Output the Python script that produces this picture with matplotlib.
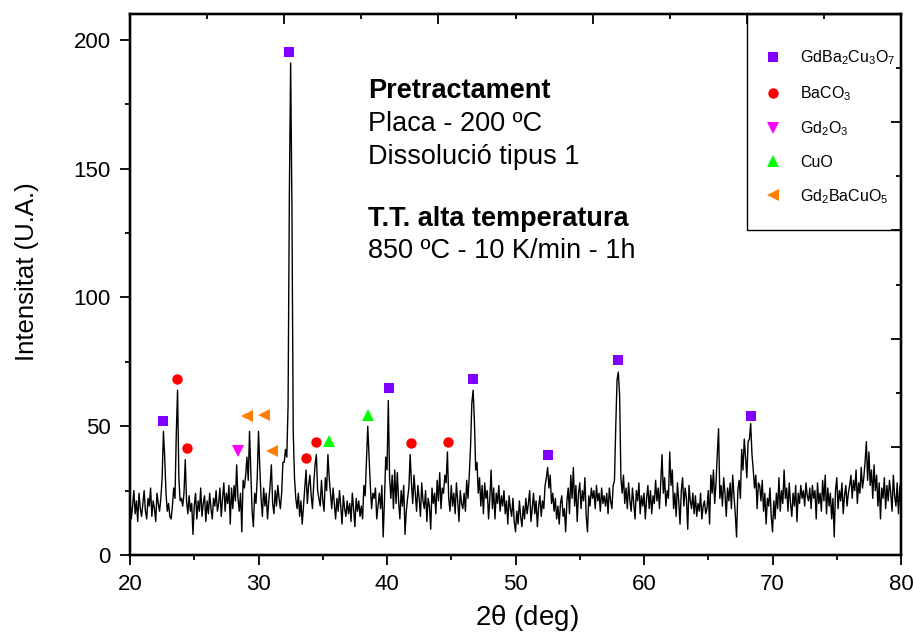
import numpy as np
import matplotlib
matplotlib.use("Agg")
import matplotlib.pyplot as plt
from matplotlib.patches import Rectangle
from matplotlib.ticker import MultipleLocator

plt.rcParams["font.family"] = ["Liberation Sans", "DejaVu Sans"]
plt.rcParams["mathtext.fontset"] = "custom"
plt.rcParams["mathtext.rm"] = "Liberation Sans"
plt.rcParams["mathtext.default"] = "regular"

# ── Data: XRD scan, 20-80 deg, 0.1 deg step ──
START, STEP = 20.0, 0.1
intensity = [
    22, 14, 19, 25, 16, 21, 13, 24, 18, 15,   # 20
    20, 25, 17, 14, 22, 19, 26, 15, 21, 18,   # 21
    13, 24, 20, 17, 22, 30, 48, 38, 24, 17,   # 22
    20, 15, 14, 19, 26, 22, 47, 64, 30, 21,   # 23
    22, 19, 24, 37, 21, 16, 23, 17, 20, 8,    # 24
    19, 24, 14, 21, 17, 26, 15, 20, 23, 13,   # 25
    21, 16, 24, 18, 14, 22, 19, 25, 17, 20,   # 26
    26, 15, 22, 28, 17, 24, 20, 27, 12, 26,   # 27
    18, 27, 21, 35, 22, 17, 24, 9, 29, 26,    # 28
    31, 38, 29, 48, 33, 17, 11, 24, 20, 30,   # 29
    48, 34, 22, 15, 26, 19, 24, 14, 21, 27,   # 30
    35, 20, 16, 25, 19, 27, 22, 18, 24, 36,   # 31
    36, 41, 38, 58, 140, 191, 135, 48, 30, 22,  # 32
    18, 24, 15, 21, 12, 19, 26, 33, 20, 27,   # 33
    31, 23, 18, 28, 35, 39, 25, 22, 19, 29,   # 34
    21, 17, 30, 25, 39, 30, 24, 18, 26, 20,   # 35
    14, 22, 17, 25, 19, 12, 23, 18, 15, 21,   # 36
    16, 20, 13, 24, 18, 11, 22, 17, 21, 15,   # 37
    19, 14, 27, 23, 36, 50, 38, 27, 18, 24,   # 38
    22, 26, 14, 19, 24, 18, 27, 7, 21, 38,    # 39
    33, 60, 30, 22, 31, 18, 33, 20, 32, 21,   # 40
    14, 25, 19, 27, 8, 17, 22, 26, 39, 28,    # 41
    20, 31, 24, 17, 27, 22, 15, 28, 21, 18,   # 42
    25, 13, 22, 19, 10, 26, 20, 24, 16, 29,   # 43
    21, 32, 18, 26, 24, 31, 28, 40, 22, 17,   # 44
    27, 19, 24, 16, 28, 21, 13, 25, 20, 18,   # 45
    24, 17, 29, 22, 31, 42, 59, 64, 52, 33,   # 46
    36, 24, 30, 19, 27, 16, 28, 22, 25, 14,   # 47
    22, 33, 18, 26, 14, 24, 20, 27, 17, 23,   # 48
    19, 25, 16, 21, 12, 23, 18, 15, 22, 13,   # 49
    9, 17, 12, 21, 15, 11, 19, 14, 22, 16,    # 50
    20, 25, 13, 18, 24, 16, 21, 11, 19, 23,   # 51
    15, 21, 18, 27, 30, 34, 26, 31, 20, 24,   # 52
    17, 22, 14, 19, 12, 20, 23, 15, 18, 9,    # 53
    21, 26, 16, 31, 22, 34, 19, 27, 13, 24,   # 54
    28, 18, 25, 21, 30, 15, 9, 23, 19, 26,    # 55
    22, 25, 18, 27, 21, 24, 17, 26, 20, 23,   # 56
    19, 24, 16, 26, 21, 18, 27, 29, 50, 68,   # 57
    71, 62, 30, 24, 31, 20, 26, 18, 28, 21,   # 58
    17, 26, 20, 14, 25, 21, 28, 16, 23, 19,   # 59
    24, 14, 22, 27, 18, 25, 16, 23, 20, 29,   # 60
    21, 26, 18, 28, 39, 24, 30, 19, 25, 22,   # 61
    40, 27, 33, 18, 24, 15, 28, 21, 12, 25,   # 62
    30, 19, 26, 22, 10, 27, 21, 18, 24, 16,   # 63
    23, 15, 20, 17, 24, 14, 19, 21, 16, 18,   # 64
    25, 12, 31, 24, 33, 20, 28, 39, 49, 22,   # 65
    27, 19, 30, 24, 15, 26, 21, 28, 18, 31,   # 66
    23, 16, 7, 25, 29, 22, 41, 33, 45, 38,    # 67
    30, 44, 45, 51, 39, 33, 26, 31, 18, 28,   # 68
    27, 21, 29, 17, 24, 12, 22, 19, 26, 15,   # 69
    9, 21, 14, 24, 18, 30, 17, 25, 20, 33,    # 70
    22, 26, 17, 28, 20, 15, 24, 19, 27, 13,   # 71
    24, 20, 27, 22, 25, 19, 28, 23, 21, 26,   # 72
    18, 27, 22, 25, 14, 28, 20, 24, 17, 29,   # 73
    21, 31, 16, 26, 19, 24, 14, 22, 7, 25,    # 74
    30, 18, 25, 21, 28, 16, 23, 27, 19, 24,   # 75
    27, 31, 22, 29, 25, 33, 20, 28, 24, 34,   # 76
    26, 30, 36, 44, 29, 40, 27, 33, 22, 35,   # 77
    25, 31, 19, 28, 14, 26, 22, 30, 18, 27,   # 78
    21, 29, 24, 17, 31, 23, 19, 28, 16, 26,   # 79
    29,                                       # 80
]

# phase markers (2theta, height)
gbco_x = [22.57, 32.37, 40.16, 46.69, 52.53, 57.98, 68.33]
gbco_y = [51.9, 195.3, 64.7, 68.2, 38.8, 75.6, 53.9]
baco3_x = [23.66, 24.44, 33.70, 34.47, 41.87, 44.75]
baco3_y = [68.2, 41.5, 37.6, 43.8, 43.4, 43.8]
gd2o3_x = [28.40]
gd2o3_y = [40.3]
cuo_x = [35.50, 38.52]
cuo_y = [44.2, 54.3]
g211_x = [29.10, 30.40, 31.05]
g211_y = [53.9, 54.3, 40.3]

phases = [
    (gbco_x, gbco_y, "s", "#8000FF", 6.5, r"GdBa$_2$Cu$_3$O$_7$"),
    (baco3_x, baco3_y, "o", "#FF0000", 7.5, r"BaCO$_3$"),
    (gd2o3_x, gd2o3_y, "v", "#FF00FF", 8, r"Gd$_2$O$_3$"),
    (cuo_x, cuo_y, "^", "#00FF00", 8, "CuO"),
    (g211_x, g211_y, "<", "#FF8000", 8, r"Gd$_2$BaCuO$_5$"),
]

# ── Plot ──
fig = plt.figure(figsize=(9.13, 6.37), dpi=100)
ax = fig.add_axes([0.1424, 0.1287, 0.8445, 0.8493])

tt = START + STEP * np.arange(len(intensity))
ax.plot(tt, intensity, color="black", linewidth=1.0)

handles = []
for xs, ys, mk, col, ms, lab in phases:
    h, = ax.plot(xs, ys, linestyle="none", marker=mk, color=col,
                 markersize=ms, markeredgewidth=0, label=lab)
    handles.append(h)

ax.set_xlim(20, 80)
ax.set_ylim(0, 210)
ax.xaxis.set_major_locator(MultipleLocator(10))
ax.xaxis.set_minor_locator(MultipleLocator(5))
ax.yaxis.set_major_locator(MultipleLocator(50))
ax.yaxis.set_minor_locator(MultipleLocator(25))
ax.tick_params(which="major", length=7, width=1.3, labelsize=16, pad=7)
ax.tick_params(which="minor", length=3.5, width=1.3)
for s in ax.spines.values():
    s.set_linewidth(1.6)

# top / right axes: independent 5-division ticks, pointing in
axt = ax.twiny()
axt.set_xlim(0, 1)
axt.xaxis.set_major_locator(MultipleLocator(0.2))
axt.xaxis.set_minor_locator(MultipleLocator(0.1))
axt.tick_params(axis="x", which="both", direction="in", labeltop=False,
                width=1.3)
axt.tick_params(axis="x", which="major", length=7)
axt.tick_params(axis="x", which="minor", length=3.5)
axr = ax.twinx()
axr.set_ylim(0, 1)
axr.yaxis.set_major_locator(MultipleLocator(0.2))
axr.yaxis.set_minor_locator(MultipleLocator(0.1))
axr.tick_params(axis="y", which="both", direction="in", labelright=False,
                width=1.3)
axr.tick_params(axis="y", which="major", length=7)
axr.tick_params(axis="y", which="minor", length=3.5)
for a in (axt, axr):
    for s in a.spines.values():
        s.set_linewidth(1.6)

ax.set_xlabel(r"2$\theta$ (deg)", fontsize=20)
ax.xaxis.set_label_coords(0.515, -0.088)
ax.set_ylabel("Intensitat (U.A.)", fontsize=18.5)
ax.yaxis.set_label_coords(-0.118, 0.523)

# legend box
ax.add_patch(Rectangle((0.8, 0.6), 0.2, 0.4, transform=ax.transAxes,
                       fill=False, edgecolor="black", linewidth=1.0, zorder=5))
ax.legend(handles=handles, loc="upper left", bbox_to_anchor=(0.817, 0.936),
          frameon=False, fontsize=11.5, borderpad=0, borderaxespad=0,
          handlelength=1.6, handletextpad=0.9, labelspacing=1.05)

# conditions text
tx = 368 / 913
fs = 19.5
ax.text(tx, 0.846, "Pretractament", transform=fig.transFigure,
        fontsize=fs, fontweight="bold")
ax.text(tx, 0.794, "Placa - 200 ºC", transform=fig.transFigure, fontsize=fs)
ax.text(tx, 0.743, "Dissolució tipus 1", transform=fig.transFigure, fontsize=fs)
ax.text(tx, 0.645, "T.T. alta temperatura", transform=fig.transFigure,
        fontsize=fs, fontweight="bold")
ax.text(tx, 0.595, "850 ºC - 10 K/min - 1h", transform=fig.transFigure,
        fontsize=fs)

fig.savefig("out.png", dpi=100)
